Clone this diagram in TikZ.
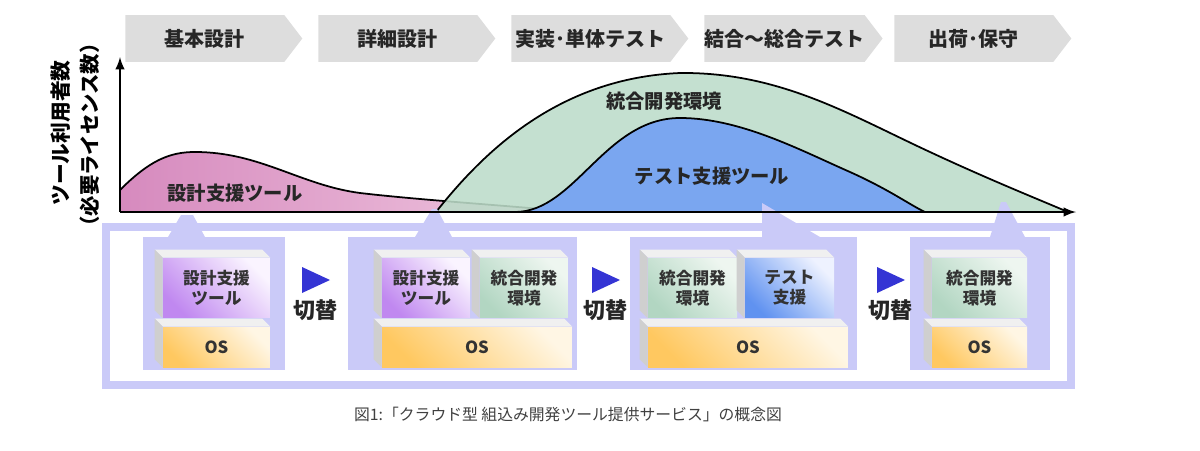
\documentclass[tikz,border=0pt]{standalone}
\usepackage{fontspec}
\setmainfont{Noto Sans CJK JP}
\usetikzlibrary{shapes.symbols,calc}

\definecolor{phasegray}{RGB}{221,221,221}
\definecolor{lav}{RGB}{202,202,248}
\definecolor{pinkA}{RGB}{214,138,190}
\definecolor{pinkB}{RGB}{240,200,224}
\definecolor{sage}{RGB}{188,220,201}
\definecolor{skyblue}{RGB}{122,166,240}
\definecolor{toolA}{RGB}{192,136,240}
\definecolor{toolB}{RGB}{250,244,255}
\definecolor{ideA}{RGB}{178,214,194}
\definecolor{ideB}{RGB}{238,246,240}
\definecolor{testA}{RGB}{96,146,240}
\definecolor{testB}{RGB}{238,242,255}
\definecolor{osA}{RGB}{255,200,96}
\definecolor{osB}{RGB}{255,246,228}
\definecolor{switchblue}{RGB}{52,52,212}

\begin{document}
\begin{tikzpicture}[x=0.02cm, y=-0.02cm,
  phase/.style={signal, signal to=east, signal pointer angle=105, fill=phasegray, anchor=west,
    minimum width=3.54cm, minimum height=0.94cm, inner sep=0pt, text=black!85,
    font=\fontsize{11.4}{13}\selectfont\bfseries},
  curve/.style={draw=black, line width=1pt},
  curvelabel/.style={font=\fontsize{11}{13}\selectfont\bfseries, text=black!85},
  axisline/.style={-latex, line width=1.4pt},
  ylabel/.style={rotate=90, inner sep=0pt, font=\fontsize{#1}{13}\selectfont\bfseries},
  frame/.style={draw=lav, line width=0.16cm},
  panel/.style={fill=lav, minimum height=2.66cm, inner sep=0pt},
  blk/.style={inner sep=0pt, align=center, text=black!80, font=\fontsize{9.5}{11.5}\selectfont\bfseries},
  toolblk/.style={blk, minimum height=1.2cm, bottom color=toolA, top color=toolB, shading angle=-45},
  ideblk/.style={blk, minimum height=1.2cm, bottom color=ideA, top color=ideB, shading angle=-45},
  testblk/.style={blk, minimum height=1.2cm, bottom color=testA, top color=testB, shading angle=-45},
  osblk/.style={blk, minimum height=0.8cm, bottom color=osA, top color=osB, shading angle=-45},
  topface/.style={fill=gray!12},
  sideface/.style={fill=gray!38},
  swtri/.style={fill=switchblue},
  swlab/.style={font=\fontsize{12.5}{14}\selectfont\bfseries, text=black!85},
  caption/.style={font=\fontsize{9}{11}\selectfont, text=black!75}
]
  \useasboundingbox (0,0) rectangle (1200,450);

  % phases
  \foreach \n/\x/\t in {ph1/125/基本設計, ph2/318/詳細設計, ph3/511/実装･単体テスト,
                        ph4/704/結合～総合テスト, ph5/894/出荷･保守}
    \node[phase] (\n) at (\x,38.5) {\t};

  % usage curves
  \fill[left color=pinkA, right color=pinkB] (120,212) -- (120,190)
    .. controls (150,160) and (170,152) .. (195,152)
    .. controls (260,152) and (300,185) .. (360,193)
    .. controls (420,200) and (500,205) .. (575,212) -- cycle;
  \draw[curve] (120,190)
    .. controls (150,160) and (170,152) .. (195,152)
    .. controls (260,152) and (300,185) .. (360,193)
    .. controls (420,200) and (500,205) .. (575,212);
  \path[curve, fill=sage, fill opacity=0.88] (436,212)
    .. controls (485,150) and (560,78) .. (680,73)
    .. controls (780,72) and (850,115) .. (930,152)
    .. controls (990,180) and (1040,200) .. (1068,212);
  \path[curve, fill=skyblue] (515,212)
    .. controls (575,212) and (605,118) .. (680,118)
    .. controls (740,118) and (800,150) .. (850,172)
    .. controls (890,190) and (910,205) .. (925,212);

  \node[curvelabel] (lbl1) at (235,193) {設計支援ツール};
  \node[curvelabel] (lbl2) at (664,101) {統合開発環境};
  \node[curvelabel] (lbl3) at (712,176) {テスト支援ツール};

  \node[ylabel=11.8] (yl1) at (61,133) {ツール利用者数};
  \node[ylabel=11.6] (yl2) at (90,135) {（必要ライセンス数）};

  % lower frame with callout tabs
  \draw[frame] (106,227) rectangle (1071,385);
  \fill[lav] (168,237) -- (181,215) -- (193,215) -- (205,237) -- cycle;
  \fill[lav] (415,237) -- (432,209) -- (437,209) -- (452,237) -- cycle;
  \fill[lav] (762,237) -- (762,203) -- (820,237) -- cycle;
  \fill[lav] (990,237) -- (1001,202) -- (1006,202) -- (1025,237) -- cycle;

  \coordinate (org) at (120,212);
  \coordinate (xend) at (1076,212);
  \coordinate (yend) at (120,57);
  \draw[axisline] (org) -- (xend);
  \draw[axisline] (org) -- (yend);

  \node[panel, minimum width=2.84cm] (pn1) at (214,303.5) {};
  \node[panel, minimum width=4.58cm] (pn2) at (462.5,303.5) {};
  \node[panel, minimum width=4.54cm] (pn3) at (743.5,303.5) {};
  \node[panel, minimum width=2.8cm]  (pn4) at (980,303.5) {};

  \node[toolblk, minimum width=2.14cm] (t1) at (216.5,288) {設計支援\\ツール};
  \node[osblk,   minimum width=2.14cm] (o1) at (216.5,347) {OS};
  \node[toolblk, minimum width=1.76cm] (t2) at (426,288) {設計支援\\ツール};
  \node[ideblk,  minimum width=1.76cm] (g2) at (524,288) {統合開発\\環境};
  \node[osblk,   minimum width=3.8cm]  (o2) at (477,347) {OS};
  \node[ideblk,  minimum width=1.78cm] (g3) at (692.5,288) {統合開発\\環境};
  \node[testblk, minimum width=1.78cm] (b3) at (789.5,288) {テスト\\支援};
  \node[osblk,   minimum width=4cm]    (o3) at (748,347) {OS};
  \node[ideblk,  minimum width=1.9cm]  (g4) at (979.5,288) {統合開発\\環境};
  \node[osblk,   minimum width=1.9cm]  (o4) at (979.5,347) {OS};

  % bevels
  \foreach \b in {t1,o1,t2,g2,o2,g3,b3,o3,g4,o4} {
    \fill[topface] (\b.north west) -- ++(-8,-8) -- ($(\b.north east)+(-8,-8)$) -- (\b.north east) -- cycle;
    \fill[sideface] (\b.north west) -- ++(-8,-8) -- ($(\b.south west)+(-8,-8)$) -- (\b.south west) -- cycle;
  }

  % switch marks
  \foreach \x/\n in {302/1, 592/2, 877/3} {
    \fill[swtri] (\x,267) -- ++(28,13) -- ++(-28,13) -- cycle;
    \node[swlab] (sw\n) at (\x+13,310) {切替};
  }

  \node[caption] (cap) at (568,414) {図1:「クラウド型 組込み開発ツール提供サービス」の概念図};
\end{tikzpicture}
\end{document}
